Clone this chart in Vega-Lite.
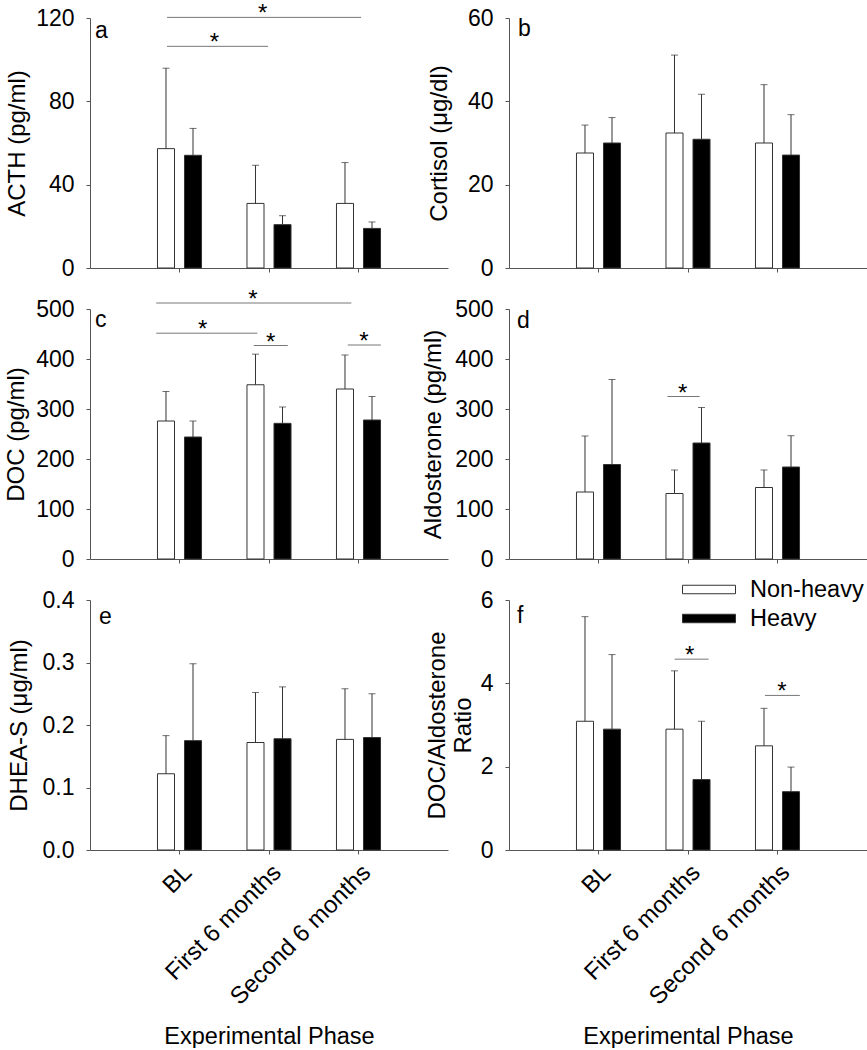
{
  "$schema": "https://vega.github.io/schema/vega-lite/v6.json",
  "padding": {"left": 4, "top": 2, "right": 0, "bottom": 0},
  "background": "white",
  "config": {
    "font": "Liberation Sans",
    "view": {"stroke": null},
    "axis": {"grid": false, "domainColor": "#555", "tickColor": "#555", "tickSize": 4, "labelFontSize": 23, "labelColor": "black", "titleFontSize": 24, "titleFontWeight": "normal", "titleColor": "black", "labelFont": "Liberation Sans", "titleFont": "Liberation Sans", "labelPadding": 12, "labelLimit": 400},
    "title": {"anchor": "start", "frame": "group", "orient": "top", "fontSize": 23, "fontWeight": "normal", "font": "Liberation Sans", "color": "black", "baseline": "alphabetic", "dx": 5}
  },
  "datasets": {
    "bars": [
      {"panel": "a", "phase": "BL", "group": "Non-heavy", "mean": 57.3, "upper": 95.9},
      {"panel": "a", "phase": "BL", "group": "Heavy", "mean": 54.1, "upper": 67.0},
      {"panel": "a", "phase": "First 6 months", "group": "Non-heavy", "mean": 31.0, "upper": 49.3},
      {"panel": "a", "phase": "First 6 months", "group": "Heavy", "mean": 20.8, "upper": 25.1},
      {"panel": "a", "phase": "Second 6 months", "group": "Non-heavy", "mean": 31.0, "upper": 50.6},
      {"panel": "a", "phase": "Second 6 months", "group": "Heavy", "mean": 19.0, "upper": 22.1},
      {"panel": "b", "phase": "BL", "group": "Non-heavy", "mean": 27.6, "upper": 34.3},
      {"panel": "b", "phase": "BL", "group": "Heavy", "mean": 30.0, "upper": 36.1},
      {"panel": "b", "phase": "First 6 months", "group": "Non-heavy", "mean": 32.4, "upper": 51.1},
      {"panel": "b", "phase": "First 6 months", "group": "Heavy", "mean": 30.9, "upper": 41.7},
      {"panel": "b", "phase": "Second 6 months", "group": "Non-heavy", "mean": 30.0, "upper": 44.0},
      {"panel": "b", "phase": "Second 6 months", "group": "Heavy", "mean": 27.1, "upper": 36.8},
      {"panel": "c", "phase": "BL", "group": "Non-heavy", "mean": 276, "upper": 335},
      {"panel": "c", "phase": "BL", "group": "Heavy", "mean": 244, "upper": 276},
      {"panel": "c", "phase": "First 6 months", "group": "Non-heavy", "mean": 348.5, "upper": 409.7},
      {"panel": "c", "phase": "First 6 months", "group": "Heavy", "mean": 271.3, "upper": 304},
      {"panel": "c", "phase": "Second 6 months", "group": "Non-heavy", "mean": 340, "upper": 408},
      {"panel": "c", "phase": "Second 6 months", "group": "Heavy", "mean": 278, "upper": 325},
      {"panel": "d", "phase": "BL", "group": "Non-heavy", "mean": 134, "upper": 246},
      {"panel": "d", "phase": "BL", "group": "Heavy", "mean": 189, "upper": 359},
      {"panel": "d", "phase": "First 6 months", "group": "Non-heavy", "mean": 131, "upper": 178},
      {"panel": "d", "phase": "First 6 months", "group": "Heavy", "mean": 232, "upper": 303},
      {"panel": "d", "phase": "Second 6 months", "group": "Non-heavy", "mean": 143, "upper": 178},
      {"panel": "d", "phase": "Second 6 months", "group": "Heavy", "mean": 184, "upper": 246.6},
      {"panel": "e", "phase": "BL", "group": "Non-heavy", "mean": 0.122, "upper": 0.183},
      {"panel": "e", "phase": "BL", "group": "Heavy", "mean": 0.175, "upper": 0.298},
      {"panel": "e", "phase": "First 6 months", "group": "Non-heavy", "mean": 0.172, "upper": 0.252},
      {"panel": "e", "phase": "First 6 months", "group": "Heavy", "mean": 0.178, "upper": 0.261},
      {"panel": "e", "phase": "Second 6 months", "group": "Non-heavy", "mean": 0.177, "upper": 0.258},
      {"panel": "e", "phase": "Second 6 months", "group": "Heavy", "mean": 0.180, "upper": 0.250},
      {"panel": "f", "phase": "BL", "group": "Non-heavy", "mean": 3.09, "upper": 5.60},
      {"panel": "f", "phase": "BL", "group": "Heavy", "mean": 2.90, "upper": 4.69},
      {"panel": "f", "phase": "First 6 months", "group": "Non-heavy", "mean": 2.90, "upper": 4.30},
      {"panel": "f", "phase": "First 6 months", "group": "Heavy", "mean": 1.69, "upper": 3.09},
      {"panel": "f", "phase": "Second 6 months", "group": "Non-heavy", "mean": 2.50, "upper": 3.40},
      {"panel": "f", "phase": "Second 6 months", "group": "Heavy", "mean": 1.40, "upper": 1.99}
    ],
    "sig": [
      {"panel": "a", "x1": 0.86, "x2": 3.03, "level": 120.3, "xs": 1.93},
      {"panel": "a", "x1": 0.86, "x2": 1.99, "level": 106.4, "xs": 1.39},
      {"panel": "c", "x1": 0.74, "x2": 2.92, "level": 512, "xs": 1.82},
      {"panel": "c", "x1": 0.74, "x2": 1.87, "level": 451.6, "xs": 1.26},
      {"panel": "c", "x1": 1.83, "x2": 2.21, "level": 427, "xs": 2.02},
      {"panel": "c", "x1": 2.88, "x2": 3.25, "level": 428, "xs": 3.06},
      {"panel": "d", "x1": 1.77, "x2": 2.13, "level": 325, "xs": 1.94},
      {"panel": "f", "x1": 1.85, "x2": 2.23, "level": 4.58, "xs": 2.02},
      {"panel": "f", "x1": 2.86, "x2": 3.25, "level": 3.71, "xs": 3.05}
    ]
  },
  "columns": 2,
  "bounds": "flush",
  "spacing": {"row": 41, "column": 61},
  "resolve": {"scale": {"fill": "independent"}, "legend": {"fill": "independent"}},
  "concat": [
    {
      "width": 358, "height": 250,
      "title": {"text": "a", "offset": -41, "frame": "group", "anchor": "start"},
      "resolve": {"scale": {"x": "independent"}},
      "layer": [
        {
          "data": {"name": "bars"},
          "transform": [{"filter": "datum.panel === 'a'"}],
          "layer": [
            {"mark": {"type": "bar", "stroke": "#333", "strokeWidth": 1},
             "encoding": {
               "x": {"field": "phase", "type": "nominal", "sort": ["BL", "First 6 months", "Second 6 months"], "scale": {"paddingInner": 0.508, "paddingOuter": 0.754}, "axis": {"labels": false, "title": null}},
               "xOffset": {"field": "group", "type": "nominal", "sort": ["Non-heavy", "Heavy"], "scale": {"paddingInner": 0.37, "paddingOuter": 0}},
               "y": {"field": "mean", "type": "quantitative", "scale": {"domain": [0, 120], "nice": false}, "axis": {"values": [0, 40, 80, 120], "title": "ACTH (pg/ml)", "titlePadding": 6}},
               "fill": {"field": "group", "type": "nominal", "scale": {"domain": ["Non-heavy", "Heavy"], "range": ["white", "black"]}, "legend": null}
             }},
            {"mark": {"type": "rule", "color": "#333", "strokeWidth": 1},
             "encoding": {
               "x": {"field": "phase", "type": "nominal", "sort": ["BL", "First 6 months", "Second 6 months"]},
               "xOffset": {"field": "group", "type": "nominal", "sort": ["Non-heavy", "Heavy"]},
               "y": {"field": "mean", "type": "quantitative", "scale": {"domain": [0, 120], "nice": false}},
               "y2": {"field": "upper"}
             }},
            {"mark": {"type": "tick", "orient": "horizontal", "size": 7, "thickness": 1, "color": "#333"},
             "encoding": {
               "x": {"field": "phase", "type": "nominal", "sort": ["BL", "First 6 months", "Second 6 months"]},
               "xOffset": {"field": "group", "type": "nominal", "sort": ["Non-heavy", "Heavy"]},
               "y": {"field": "upper", "type": "quantitative", "scale": {"domain": [0, 120], "nice": false}}
             }}
          ]
        },
        {
          "data": {"name": "sig"},
          "transform": [{"filter": "datum.panel === 'a'"}],
          "layer": [
            {"mark": {"type": "rule", "color": "#777", "strokeWidth": 1},
             "encoding": {
               "x": {"field": "x1", "type": "quantitative", "scale": {"domain": [0, 4], "nice": false}, "axis": null},
               "x2": {"field": "x2"},
               "y": {"field": "level", "type": "quantitative", "scale": {"domain": [0, 120], "nice": false}}
             }},
            {"mark": {"type": "text", "text": "*", "fontSize": 24, "dy": 4, "baseline": "alphabetic", "color": "black"},
             "encoding": {
               "x": {"field": "xs", "type": "quantitative", "scale": {"domain": [0, 4], "nice": false}},
               "y": {"field": "level", "type": "quantitative", "scale": {"domain": [0, 120], "nice": false}}
             }}
          ]
        }
      ]
    },
    {
      "width": 358, "height": 250,
      "title": {"text": "b", "offset": -34, "frame": "group", "anchor": "start", "dx": 9},
      "layer": [
        {
          "data": {"name": "bars"},
          "transform": [{"filter": "datum.panel === 'b'"}],
          "layer": [
            {"mark": {"type": "bar", "stroke": "#333", "strokeWidth": 1},
             "encoding": {
               "x": {"field": "phase", "type": "nominal", "sort": ["BL", "First 6 months", "Second 6 months"], "scale": {"paddingInner": 0.508, "paddingOuter": 0.754}, "axis": {"labels": false, "title": null}},
               "xOffset": {"field": "group", "type": "nominal", "sort": ["Non-heavy", "Heavy"], "scale": {"paddingInner": 0.37, "paddingOuter": 0}},
               "y": {"field": "mean", "type": "quantitative", "scale": {"domain": [0, 60], "nice": false}, "axis": {"values": [0, 20, 40, 60], "title": "Cortisol (μg/dl)", "titlePadding": 16}},
               "fill": {"field": "group", "type": "nominal", "scale": {"domain": ["Non-heavy", "Heavy"], "range": ["white", "black"]}, "legend": null}
             }},
            {"mark": {"type": "rule", "color": "#333", "strokeWidth": 1},
             "encoding": {
               "x": {"field": "phase", "type": "nominal", "sort": ["BL", "First 6 months", "Second 6 months"]},
               "xOffset": {"field": "group", "type": "nominal", "sort": ["Non-heavy", "Heavy"]},
               "y": {"field": "mean", "type": "quantitative"},
               "y2": {"field": "upper"}
             }},
            {"mark": {"type": "tick", "orient": "horizontal", "size": 7, "thickness": 1, "color": "#333"},
             "encoding": {
               "x": {"field": "phase", "type": "nominal", "sort": ["BL", "First 6 months", "Second 6 months"]},
               "xOffset": {"field": "group", "type": "nominal", "sort": ["Non-heavy", "Heavy"]},
               "y": {"field": "upper", "type": "quantitative"}
             }}
          ]
        }
      ]
    },
    {
      "width": 358, "height": 250,
      "title": {"text": "c", "offset": -44, "frame": "group", "anchor": "start"},
      "resolve": {"scale": {"x": "independent"}},
      "layer": [
        {
          "data": {"name": "bars"},
          "transform": [{"filter": "datum.panel === 'c'"}],
          "layer": [
            {"mark": {"type": "bar", "stroke": "#333", "strokeWidth": 1},
             "encoding": {
               "x": {"field": "phase", "type": "nominal", "sort": ["BL", "First 6 months", "Second 6 months"], "scale": {"paddingInner": 0.508, "paddingOuter": 0.754}, "axis": {"labels": false, "title": null}},
               "xOffset": {"field": "group", "type": "nominal", "sort": ["Non-heavy", "Heavy"], "scale": {"paddingInner": 0.37, "paddingOuter": 0}},
               "y": {"field": "mean", "type": "quantitative", "scale": {"domain": [0, 500], "nice": false}, "axis": {"values": [0, 100, 200, 300, 400, 500], "title": "DOC (pg/ml)", "titlePadding": 7}},
               "fill": {"field": "group", "type": "nominal", "scale": {"domain": ["Non-heavy", "Heavy"], "range": ["white", "black"]}, "legend": null}
             }},
            {"mark": {"type": "rule", "color": "#333", "strokeWidth": 1},
             "encoding": {
               "x": {"field": "phase", "type": "nominal", "sort": ["BL", "First 6 months", "Second 6 months"]},
               "xOffset": {"field": "group", "type": "nominal", "sort": ["Non-heavy", "Heavy"]},
               "y": {"field": "mean", "type": "quantitative", "scale": {"domain": [0, 500], "nice": false}},
               "y2": {"field": "upper"}
             }},
            {"mark": {"type": "tick", "orient": "horizontal", "size": 7, "thickness": 1, "color": "#333"},
             "encoding": {
               "x": {"field": "phase", "type": "nominal", "sort": ["BL", "First 6 months", "Second 6 months"]},
               "xOffset": {"field": "group", "type": "nominal", "sort": ["Non-heavy", "Heavy"]},
               "y": {"field": "upper", "type": "quantitative", "scale": {"domain": [0, 500], "nice": false}}
             }}
          ]
        },
        {
          "data": {"name": "sig"},
          "transform": [{"filter": "datum.panel === 'c'"}],
          "layer": [
            {"mark": {"type": "rule", "color": "#777", "strokeWidth": 1},
             "encoding": {
               "x": {"field": "x1", "type": "quantitative", "scale": {"domain": [0, 4], "nice": false}, "axis": null},
               "x2": {"field": "x2"},
               "y": {"field": "level", "type": "quantitative", "scale": {"domain": [0, 500], "nice": false}}
             }},
            {"mark": {"type": "text", "text": "*", "fontSize": 24, "dy": 4, "baseline": "alphabetic", "color": "black"},
             "encoding": {
               "x": {"field": "xs", "type": "quantitative", "scale": {"domain": [0, 4], "nice": false}},
               "y": {"field": "level", "type": "quantitative", "scale": {"domain": [0, 500], "nice": false}}
             }}
          ]
        }
      ]
    },
    {
      "width": 358, "height": 250,
      "title": {"text": "d", "offset": -35, "frame": "group", "anchor": "start", "dx": 8},
      "resolve": {"scale": {"x": "independent"}},
      "layer": [
        {
          "data": {"name": "bars"},
          "transform": [{"filter": "datum.panel === 'd'"}],
          "layer": [
            {"mark": {"type": "bar", "stroke": "#333", "strokeWidth": 1},
             "encoding": {
               "x": {"field": "phase", "type": "nominal", "sort": ["BL", "First 6 months", "Second 6 months"], "scale": {"paddingInner": 0.508, "paddingOuter": 0.754}, "axis": {"labels": false, "title": null}},
               "xOffset": {"field": "group", "type": "nominal", "sort": ["Non-heavy", "Heavy"], "scale": {"paddingInner": 0.37, "paddingOuter": 0}},
               "y": {"field": "mean", "type": "quantitative", "scale": {"domain": [0, 500], "nice": false}, "axis": {"values": [0, 100, 200, 300, 400, 500], "title": "Aldosterone (pg/ml)", "titlePadding": 9}},
               "fill": {"field": "group", "type": "nominal", "scale": {"domain": ["Non-heavy", "Heavy"], "range": ["white", "black"]}, "legend": null}
             }},
            {"mark": {"type": "rule", "color": "#333", "strokeWidth": 1},
             "encoding": {
               "x": {"field": "phase", "type": "nominal", "sort": ["BL", "First 6 months", "Second 6 months"]},
               "xOffset": {"field": "group", "type": "nominal", "sort": ["Non-heavy", "Heavy"]},
               "y": {"field": "mean", "type": "quantitative", "scale": {"domain": [0, 500], "nice": false}},
               "y2": {"field": "upper"}
             }},
            {"mark": {"type": "tick", "orient": "horizontal", "size": 7, "thickness": 1, "color": "#333"},
             "encoding": {
               "x": {"field": "phase", "type": "nominal", "sort": ["BL", "First 6 months", "Second 6 months"]},
               "xOffset": {"field": "group", "type": "nominal", "sort": ["Non-heavy", "Heavy"]},
               "y": {"field": "upper", "type": "quantitative", "scale": {"domain": [0, 500], "nice": false}}
             }}
          ]
        },
        {
          "data": {"name": "sig"},
          "transform": [{"filter": "datum.panel === 'd'"}],
          "layer": [
            {"mark": {"type": "rule", "color": "#777", "strokeWidth": 1},
             "encoding": {
               "x": {"field": "x1", "type": "quantitative", "scale": {"domain": [0, 4], "nice": false}, "axis": null},
               "x2": {"field": "x2"},
               "y": {"field": "level", "type": "quantitative", "scale": {"domain": [0, 500], "nice": false}}
             }},
            {"mark": {"type": "text", "text": "*", "fontSize": 24, "dy": 4, "baseline": "alphabetic", "color": "black"},
             "encoding": {
               "x": {"field": "xs", "type": "quantitative", "scale": {"domain": [0, 4], "nice": false}},
               "y": {"field": "level", "type": "quantitative", "scale": {"domain": [0, 500], "nice": false}}
             }}
          ]
        }
      ]
    },
    {
      "width": 358, "height": 250,
      "title": {"text": "e", "offset": -40, "frame": "group", "anchor": "start", "dx": 9},
      "layer": [
        {
          "data": {"name": "bars"},
          "transform": [{"filter": "datum.panel === 'e'"}],
          "layer": [
            {"mark": {"type": "bar", "stroke": "#333", "strokeWidth": 1},
             "encoding": {
               "x": {"field": "phase", "type": "nominal", "sort": ["BL", "First 6 months", "Second 6 months"], "scale": {"paddingInner": 0.508, "paddingOuter": 0.754}, "axis": {"labelAngle": -45, "labelFontSize": 24, "labelPadding": 6, "title": "Experimental Phase", "titleFontSize": 23.5, "titlePadding": 15}},
               "xOffset": {"field": "group", "type": "nominal", "sort": ["Non-heavy", "Heavy"], "scale": {"paddingInner": 0.37, "paddingOuter": 0}},
               "y": {"field": "mean", "type": "quantitative", "scale": {"domain": [0, 0.4], "nice": false}, "axis": {"values": [0, 0.1, 0.2, 0.3, 0.4], "format": ".1f", "title": "DHEA-S (μg/ml)", "titlePadding": 11}},
               "fill": {"field": "group", "type": "nominal", "scale": {"domain": ["Non-heavy", "Heavy"], "range": ["white", "black"]}, "legend": null}
             }},
            {"mark": {"type": "rule", "color": "#333", "strokeWidth": 1},
             "encoding": {
               "x": {"field": "phase", "type": "nominal", "sort": ["BL", "First 6 months", "Second 6 months"]},
               "xOffset": {"field": "group", "type": "nominal", "sort": ["Non-heavy", "Heavy"]},
               "y": {"field": "mean", "type": "quantitative"},
               "y2": {"field": "upper"}
             }},
            {"mark": {"type": "tick", "orient": "horizontal", "size": 7, "thickness": 1, "color": "#333"},
             "encoding": {
               "x": {"field": "phase", "type": "nominal", "sort": ["BL", "First 6 months", "Second 6 months"]},
               "xOffset": {"field": "group", "type": "nominal", "sort": ["Non-heavy", "Heavy"]},
               "y": {"field": "upper", "type": "quantitative"}
             }}
          ]
        }
      ]
    },
    {
      "width": 358, "height": 250,
      "title": {"text": "f", "offset": -53, "frame": "group", "anchor": "start", "dx": 8},
      "resolve": {"scale": {"x": "independent"}},
      "layer": [
        {
          "data": {"name": "bars"},
          "transform": [{"filter": "datum.panel === 'f'"}],
          "layer": [
            {"mark": {"type": "bar", "stroke": "#333", "strokeWidth": 1},
             "encoding": {
               "x": {"field": "phase", "type": "nominal", "sort": ["BL", "First 6 months", "Second 6 months"], "scale": {"paddingInner": 0.508, "paddingOuter": 0.754}, "axis": {"labelAngle": -45, "labelFontSize": 24, "labelPadding": 6, "title": "Experimental Phase", "titleFontSize": 23.5, "titlePadding": 15}},
               "xOffset": {"field": "group", "type": "nominal", "sort": ["Non-heavy", "Heavy"], "scale": {"paddingInner": 0.37, "paddingOuter": 0}},
               "y": {"field": "mean", "type": "quantitative", "scale": {"domain": [0, 6], "nice": false}, "axis": {"values": [0, 2, 4, 6], "title": ["DOC/Aldosterone", "Ratio"], "titleLineHeight": 26, "titlePadding": 5}},
               "fill": {"field": "group", "type": "nominal", "scale": {"domain": ["Non-heavy", "Heavy"], "range": ["white", "black"]},
                 "legend": {"orient": "none", "legendX": 173, "legendY": -25, "direction": "vertical", "title": null, "padding": 0, "symbolType": "M-1,-0.16L1,-0.16L1,0.16L-1,0.16Z", "symbolSize": 2809, "symbolStrokeColor": "#333", "symbolStrokeWidth": 1, "labelFontSize": 23.5, "labelFont": "Liberation Sans", "labelColor": "black", "labelOffset": 14, "clipHeight": 29, "rowPadding": 0}}
             }},
            {"mark": {"type": "rule", "color": "#333", "strokeWidth": 1},
             "encoding": {
               "x": {"field": "phase", "type": "nominal", "sort": ["BL", "First 6 months", "Second 6 months"]},
               "xOffset": {"field": "group", "type": "nominal", "sort": ["Non-heavy", "Heavy"]},
               "y": {"field": "mean", "type": "quantitative", "scale": {"domain": [0, 6], "nice": false}},
               "y2": {"field": "upper"}
             }},
            {"mark": {"type": "tick", "orient": "horizontal", "size": 7, "thickness": 1, "color": "#333"},
             "encoding": {
               "x": {"field": "phase", "type": "nominal", "sort": ["BL", "First 6 months", "Second 6 months"]},
               "xOffset": {"field": "group", "type": "nominal", "sort": ["Non-heavy", "Heavy"]},
               "y": {"field": "upper", "type": "quantitative", "scale": {"domain": [0, 6], "nice": false}}
             }}
          ]
        },
        {
          "data": {"name": "sig"},
          "transform": [{"filter": "datum.panel === 'f'"}],
          "layer": [
            {"mark": {"type": "rule", "color": "#777", "strokeWidth": 1},
             "encoding": {
               "x": {"field": "x1", "type": "quantitative", "scale": {"domain": [0, 4], "nice": false}, "axis": null},
               "x2": {"field": "x2"},
               "y": {"field": "level", "type": "quantitative", "scale": {"domain": [0, 6], "nice": false}}
             }},
            {"mark": {"type": "text", "text": "*", "fontSize": 24, "dy": 4, "baseline": "alphabetic", "color": "black"},
             "encoding": {
               "x": {"field": "xs", "type": "quantitative", "scale": {"domain": [0, 4], "nice": false}},
               "y": {"field": "level", "type": "quantitative", "scale": {"domain": [0, 6], "nice": false}}
             }}
          ]
        }
      ]
    }
  ]
}
